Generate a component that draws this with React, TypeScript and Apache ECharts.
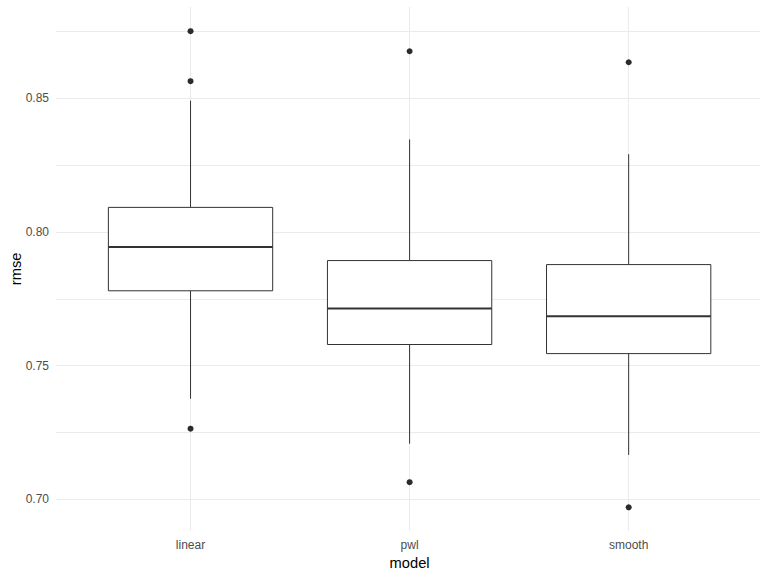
import React, { useEffect, useRef } from "react";
import * as echarts from "echarts";

const categories = ["linear", "pwl", "smooth"];
const lowerWhisker = [0.7376, 0.7208, 0.7166];
const q1 = [0.778, 0.7579, 0.7545];
const median = [0.7944, 0.7714, 0.7685];
const q3 = [0.8092, 0.7893, 0.7878];
const upperWhisker = [0.8491, 0.8346, 0.8291];
const outlierCategory = ["linear", "linear", "linear", "pwl", "pwl", "smooth", "smooth"];
const outlierValue = [0.8751, 0.8564, 0.7264, 0.8676, 0.7064, 0.8635, 0.697];
const yTicks = [0.7, 0.75, 0.8, 0.85];

const FONT = "'Liberation Sans', Arial, sans-serif";
const GRID_COLOR = "#ebebeb";
const INK = "#333333";

export default function App() {
  const ref = useRef<HTMLDivElement>(null);
  useEffect(() => {
    if (!ref.current) return;
    const chart = echarts.init(ref.current, null, { renderer: "svg" });
    const boxData = categories.map((c, i) => [i, lowerWhisker[i], q1[i], median[i], q3[i], upperWhisker[i]]);
    const outliers = outlierCategory.map((c, i) => [c, outlierValue[i]]);
    const panelTop = 7;
    const panelBottom = 530.7;
    chart.setOption({
      animation: false,
      backgroundColor: "#ffffff",
      textStyle: { fontFamily: FONT },
      grid: [
        { left: 56, right: 8, top: 31.5, bottom: 576 - 499.3 },
        { left: 78.8, right: 29.8, top: panelTop, bottom: 576 - panelBottom },
      ],
      xAxis: [
        { type: "value", gridIndex: 0, show: false, min: 0, max: 1 },
        {
          type: "category",
          gridIndex: 1,
          data: categories,
          boundaryGap: true,
          axisLine: { show: false },
          axisTick: {
            show: true,
            alignWithLabel: true,
            inside: true,
            length: panelBottom - panelTop,
            lineStyle: { color: GRID_COLOR, width: 1 },
          },
          splitLine: { show: false },
          axisLabel: { color: "#4d4d4d", fontSize: 12, margin: 8, fontFamily: FONT },
          name: "model",
          nameLocation: "middle",
          nameGap: 20,
          nameTextStyle: { color: "#000000", fontSize: 14.7, fontFamily: FONT },
        },
      ],
      yAxis: [
        {
          type: "value",
          gridIndex: 0,
          min: 0.7,
          max: 0.875,
          interval: 0.025,
          axisLine: { show: false },
          axisTick: { show: false },
          splitLine: { show: true, lineStyle: { color: GRID_COLOR, width: 1 } },
          axisLabel: {
            color: "#4d4d4d",
            fontSize: 12,
            margin: 7,
            fontFamily: FONT,
            formatter: (v: number) => {
              const hit = yTicks.find((t) => Math.abs(t - v) < 1e-6);
              return hit !== undefined ? hit.toFixed(2) : "";
            },
          },
        },
        {
          type: "value",
          gridIndex: 1,
          min: 0.68825,
          max: 0.88416,
          axisLine: { show: false },
          axisTick: { show: false },
          axisLabel: { show: false },
          splitLine: { show: false },
          name: "rmse",
          nameLocation: "middle",
          nameRotate: 90,
          nameGap: 58,
          nameTextStyle: { color: "#000000", fontSize: 14.7, fontFamily: FONT },
        },
      ],
      series: [
        { type: "scatter", xAxisIndex: 0, yAxisIndex: 0, data: [] },
        {
          type: "custom",
          xAxisIndex: 1,
          yAxisIndex: 1,
          data: boxData,
          encode: { x: 0, y: [1, 2, 3, 4, 5] },
          renderItem: (params: any, api: any) => {
            const x = api.value(0);
            const lo = api.coord([x, api.value(1)]);
            const a = api.coord([x, api.value(2)]);
            const m = api.coord([x, api.value(3)]);
            const b = api.coord([x, api.value(4)]);
            const hi = api.coord([x, api.value(5)]);
            const bw = api.size([1, 0])[0] * 0.75;
            const cx = lo[0];
            return {
              type: "group",
              children: [
                { type: "line", shape: { x1: cx, y1: hi[1], x2: cx, y2: b[1] }, style: { stroke: INK, lineWidth: 1 } },
                { type: "line", shape: { x1: cx, y1: a[1], x2: cx, y2: lo[1] }, style: { stroke: INK, lineWidth: 1 } },
                {
                  type: "rect",
                  shape: { x: cx - bw / 2, y: b[1], width: bw, height: a[1] - b[1] },
                  style: { fill: "#ffffff", stroke: INK, lineWidth: 1 },
                },
                {
                  type: "line",
                  shape: { x1: cx - bw / 2, y1: m[1], x2: cx + bw / 2, y2: m[1] },
                  style: { stroke: INK, lineWidth: 2 },
                },
              ],
            };
          },
        },
        {
          type: "scatter",
          xAxisIndex: 1,
          yAxisIndex: 1,
          data: outliers,
          symbol: "circle",
          symbolSize: 6,
          itemStyle: { color: "#2b2b2b", opacity: 1 },
        },
      ],
    });
    return () => chart.dispose();
  }, []);
  return <div ref={ref} style={{ position: "fixed", left: 0, top: 0, width: 768, height: 576 }} />;
}
